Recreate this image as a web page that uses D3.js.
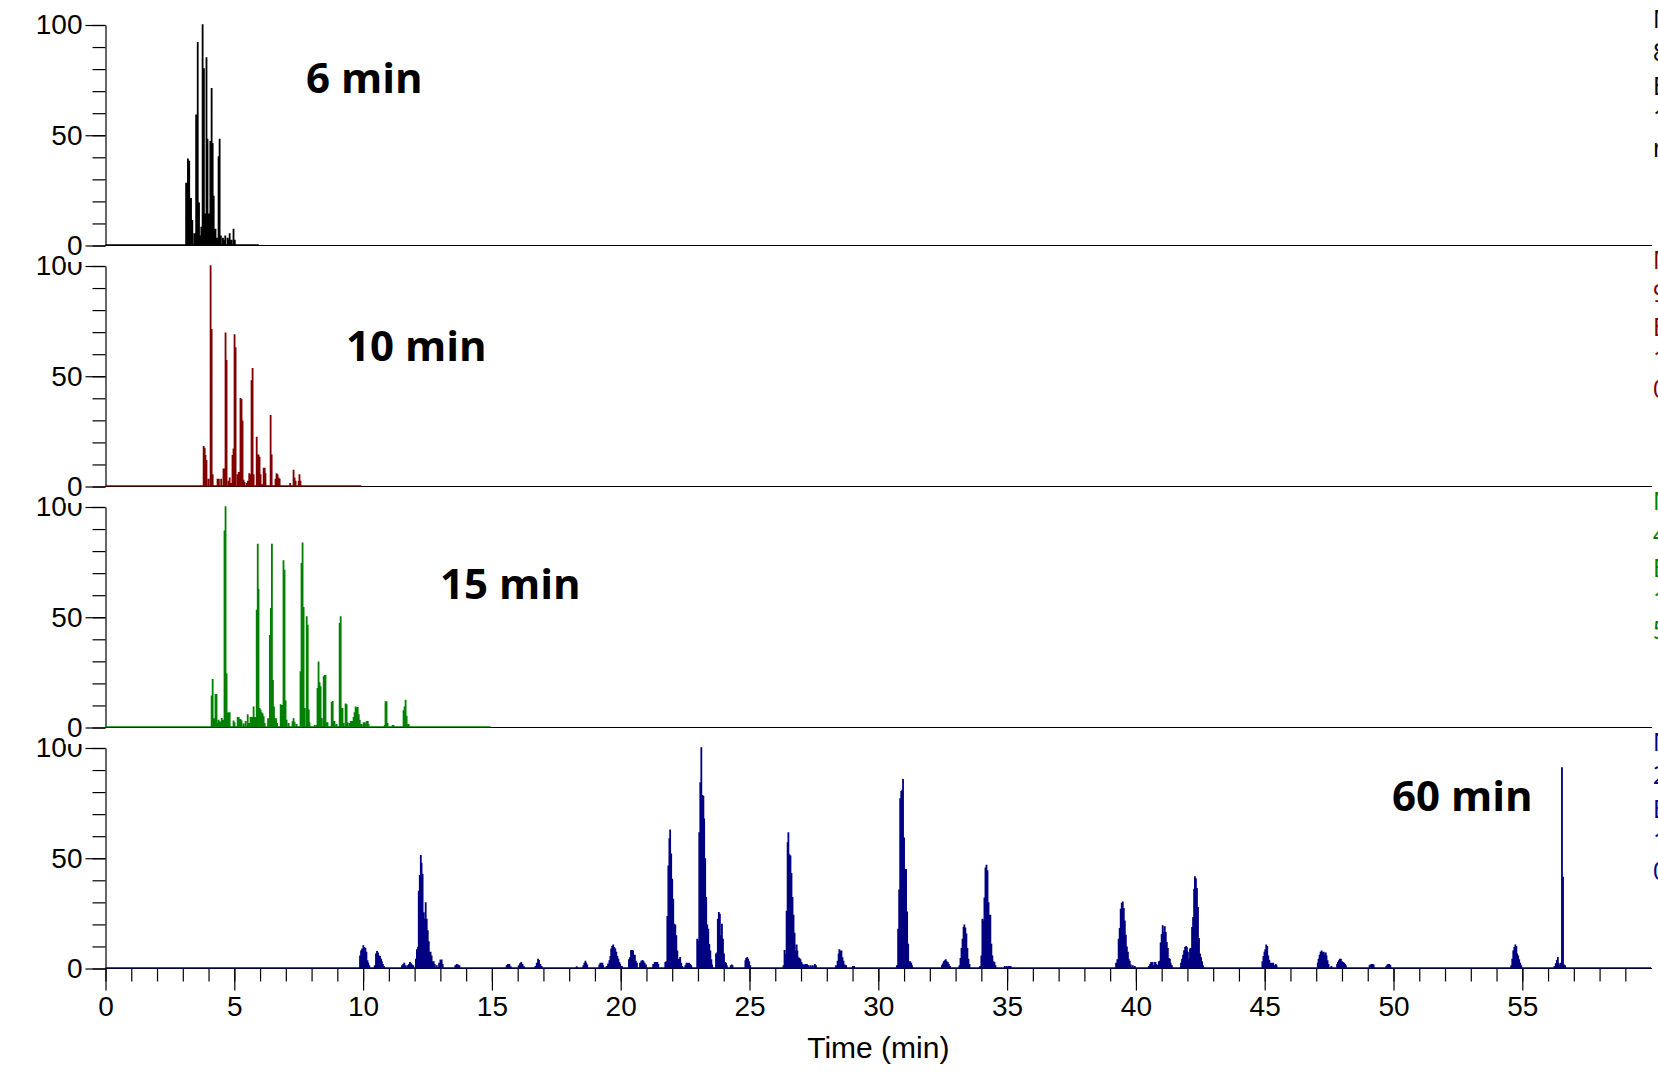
<!DOCTYPE html>
<html>
<head>
<meta charset="utf-8">
<script src="https://cdn.jsdelivr.net/npm/d3@7/dist/d3.min.js"></script>
<style>
  body { margin: 0; background: #fff; }
  svg { display: block; }
</style>
</head>
<body>
<div id="chart"></div>
<script>
// ---- data (time in min, relative abundance in %) ----
const runNames = ["6 min", "10 min", "15 min", "60 min"];
const runEnds = [5.95, 9.93, 14.95, 60];
const traceColors = ["#000000", "#800000", "#008000", "#000080"];

const trace6 = [
  [3.12,28],[3.19,39],[3.24,38],[3.31,21],[3.36,11],[3.44,5],[3.51,59],[3.57,92],[3.62,19],
  [3.67,4],[3.71,8],[3.76,100],[3.81,80],[3.86,14],[3.91,85],[3.95,48],[3.98,14],[4.02,14],
  [4.06,47],[4.11,71],[4.15,46],[4.19,22],[4.26,7],[4.31,3],[4.38,40],[4.42,48],[4.47,4],
  [4.55,3],[4.60,2],[4.64,4],[4.73,3],[4.77,2],[4.81,5],[4.88,2],[4.96,7],[5.01,2]
];

const trace10 = [
  [3.80,17.8],[3.84,17],[3.87,13.7],[3.91,11.5],[3.99,3],[4.07,100],[4.11,71],[4.15,5],
  [4.34,3],[4.39,3],[4.48,3],[4.57,7.6],[4.61,7.6],[4.65,69.5],[4.69,57],[4.77,2],[4.81,3.5],
  [4.88,1],[4.92,13.7],[4.96,16.7],[5.00,68.7],[5.04,62.7],[5.12,5],[5.16,6],[5.23,39.7],
  [5.27,39.2],[5.31,29.4],[5.35,2.5],[5.39,1.5],[5.48,1],[5.52,2],[5.57,5.5],[5.61,5],
  [5.66,47.8],[5.70,53.3],[5.74,5],[5.86,22],[5.89,8],[5.93,14],[5.97,13],[6.01,5],[6.06,0.5],
  [6.13,8],[6.17,8],[6.20,5.5],[6.40,32],[6.44,14],[6.59,3],[6.63,5.5],[6.67,5],[6.71,3.5],
  [6.75,3],[7.16,1],[7.29,7],[7.33,3.5],[7.37,2],[7.49,2],[7.52,5],[7.56,2]
];

const trace15 = [
  [4.11,14],[4.15,21.5],[4.19,3.6],[4.23,3.6],[4.26,14.7],[4.30,14.7],[4.34,1.5],[4.38,3],
  [4.42,2.3],[4.46,1.8],[4.50,3.8],[4.54,3],[4.57,3],[4.61,89],[4.65,100],[4.69,24],[4.73,6],
  [4.77,6.4],[4.81,6.4],[4.96,2.6],[5.00,1.8],[5.12,4.2],[5.16,4.2],[5.23,3.3],[5.27,2.7],
  [5.35,1.2],[5.43,2.4],[5.51,5.5],[5.55,1.5],[5.62,4.2],[5.66,4.2],[5.70,4.2],[5.74,9],
  [5.78,4.2],[5.82,4.2],[5.86,53],[5.90,83],[5.93,62.4],[5.97,8.3],[6.01,7.6],[6.05,6.4],
  [6.09,5.8],[6.13,4.5],[6.17,1.5],[6.30,3.6],[6.33,3.6],[6.37,41.5],[6.41,53.8],[6.45,83],
  [6.49,21],[6.53,9],[6.57,3.6],[6.61,3.6],[6.65,1.5],[6.79,10],[6.83,9.7],[6.90,75.5],
  [6.94,71.2],[6.98,11.8],[7.02,3],[7.10,1.5],[7.25,2.3],[7.29,3.6],[7.33,2],[7.41,1],
  [7.56,25],[7.60,74.2],[7.64,83.6],[7.68,54.2],[7.72,8.3],[7.80,50],[7.84,46.2],[7.88,7.6],
  [7.91,1.8],[8.11,0.6],[8.19,0.6],[8.22,17.4],[8.26,29.5],[8.30,20],[8.34,18.2],[8.38,3.8],
  [8.46,22.7],[8.50,23.3],[8.53,23.3],[8.57,1.8],[8.61,1.8],[8.77,11],[8.81,11.5],[8.85,2.4],
  [8.88,2.4],[8.96,1],[9.08,47],[9.12,50],[9.16,6],[9.19,8.3],[9.23,1.5],[9.31,10.3],[9.35,10],
  [9.39,1.8],[9.47,1.5],[9.51,2.4],[9.54,1.8],[9.58,2.4],[9.62,4.2],[9.66,6.4],[9.70,9],
  [9.74,8.3],[9.78,8.8],[9.82,5.5],[9.86,3],[9.93,1],[10.01,1.8],[10.05,1.8],[10.09,1],
  [10.13,2.4],[10.17,2.4],[10.20,1],[10.83,0.6],[10.86,11.4],[10.90,11.4],[10.94,1.5],
  [11.14,0.6],[11.17,0.6],[11.56,7.3],[11.60,9],[11.64,12.1],[11.68,4.8],[11.72,1],[11.76,1]
];

const trace60 = [
  [9.87,5.4],[9.91,7.6],[9.95,8.5],[10.00,10],[10.04,9.2],[10.08,8.8],[10.12,7],[10.16,3.2],
  [10.19,2.1],[10.23,0.9],[10.44,0.9],[10.49,6.2],[10.53,7.4],[10.57,6.7],[10.61,5.4],
  [10.65,5.1],[10.69,3.9],[10.72,2.7],[10.76,1.5],[10.80,0.6],[11.50,0.9],[11.55,1.5],
  [11.59,2.1],[11.64,0.9],[11.72,0.9],[11.77,1.5],[11.81,2.4],[11.85,1.8],[11.89,1.2],
  [11.94,0.9],[12.04,3.9],[12.08,8.2],[12.12,9.2],[12.15,34.8],[12.19,42],[12.23,51.1],
  [12.26,47.5],[12.30,42.5],[12.34,25],[12.38,22],[12.42,29.6],[12.46,22],[12.50,16.8],
  [12.54,11.8],[12.57,7],[12.61,7],[12.65,5.4],[12.69,2.7],[12.73,2.7],[12.77,1.5],
  [12.85,0.9],[12.94,2.1],[12.99,3.5],[13.04,3.5],[13.08,1.5],[13.57,0.9],[13.62,1.5],
  [13.67,1.2],[13.73,0.9],[15.56,0.9],[15.61,1.5],[15.67,1.5],[15.72,0.5],[16.03,0.9],
  [16.08,1.8],[16.13,2.4],[16.18,1.5],[16.24,0.5],[16.68,0.6],[16.73,2.1],[16.78,3.9],
  [16.82,3.3],[16.87,1.5],[16.92,0.6],[18.28,0.5],[18.54,0.9],[18.58,2.1],[18.62,3],
  [18.65,2.1],[18.69,1.2],[19.16,1.2],[19.20,2.1],[19.24,2.1],[19.28,2.1],[19.31,0.9],
  [19.44,0.6],[19.50,1.7],[19.55,3.2],[19.59,5.1],[19.62,8.5],[19.66,9.7],[19.70,10.3],
  [19.74,9.2],[19.78,8.5],[19.82,7],[19.86,5.1],[19.90,3.9],[19.94,2.4],[19.97,1.5],
  [20.04,0.6],[20.31,3.6],[20.35,4.5],[20.39,7.9],[20.43,7.9],[20.47,7.6],[20.50,5.1],
  [20.54,5.7],[20.58,3],[20.62,2.1],[20.74,2.1],[20.79,3],[20.84,3.3],[20.88,2.7],
  [20.92,2.1],[20.97,1.2],[21.25,1.5],[21.31,2.4],[21.36,2.4],[21.41,2.4],[21.45,1.5],
  [21.72,2.4],[21.76,2.7],[21.80,23.3],[21.84,46.3],[21.88,58.7],[21.91,62.6],[21.95,51.7],
  [21.99,40.2],[22.03,31.1],[22.07,19.8],[22.11,19.4],[22.15,14.5],[22.19,7.6],[22.23,3.9],
  [22.26,2.4],[22.30,4.7],[22.34,2.1],[22.38,0.6],[22.50,0.9],[22.54,1.8],[22.57,2.1],
  [22.61,1.8],[22.65,2.1],[22.69,1.5],[22.73,0.9],[22.96,13],[23.00,12.2],[23.04,61.4],
  [23.08,84.1],[23.12,100],[23.16,78.3],[23.20,78],[23.23,67.7],[23.27,49.6],[23.31,31.9],
  [23.35,19.4],[23.39,17.5],[23.43,10.6],[23.47,7.6],[23.51,3.6],[23.54,1.2],[23.69,6.2],
  [23.73,6.7],[23.76,22],[23.80,25.1],[23.84,24.3],[23.88,14.5],[23.92,19.8],[23.96,13],
  [24.00,6.2],[24.04,2.4],[24.08,2.1],[24.11,0.9],[24.26,0.9],[24.30,1.2],[24.33,0.9],
  [24.83,3.2],[24.86,4.2],[24.90,4.7],[24.94,3.9],[24.98,2.7],[25.02,0.9],
  [26.31,0.9],[26.35,7.9],[26.39,6],[26.43,25.7],[26.47,56.8],[26.50,61.4],[26.54,51.4],
  [26.58,50.8],[26.62,42.9],[26.66,31.9],[26.70,23.9],[26.74,15.7],[26.78,7.6],[26.82,10.3],
  [26.85,7.6],[26.89,4.5],[26.93,4.2],[26.97,3.6],[27.01,2.4],[27.05,1.5],[27.09,1.2],
  [27.16,1.5],[27.22,1.5],[27.29,0.9],[27.37,0.9],[27.45,0.9],[27.53,1.5],[27.57,0.9],
  [28.35,0.9],[28.41,3],[28.45,6.3],[28.48,8.2],[28.52,7.6],[28.56,7.6],[28.60,4.5],
  [28.64,3],[28.69,1.2],[28.74,0.9],[29.00,0.6],[29.05,0.6],[30.71,0.9],[30.76,17.5],
  [30.80,35.4],[30.84,76.8],[30.88,80.1],[30.92,80.7],[30.95,85.6],[30.99,59],[31.03,44.7],
  [31.07,44.7],[31.11,25.4],[31.15,10.7],[31.19,2.7],[31.23,2.7],[31.27,2.1],[31.30,0.9],
  [32.46,0.9],[32.49,1.7],[32.53,2.7],[32.57,3.2],[32.61,3.6],[32.65,2.7],[32.69,2.4],
  [32.73,1.5],[32.78,0.6],[33.14,0.9],[33.18,4.2],[33.22,8.8],[33.26,13],[33.30,18.3],
  [33.33,19.4],[33.37,18.1],[33.41,15.3],[33.45,8.8],[33.49,3.9],[33.53,1.5],[33.94,0.6],
  [33.99,5.4],[34.03,22],[34.07,21.3],[34.11,31.7],[34.15,45.4],[34.19,46.6],[34.23,44.1],
  [34.27,29.6],[34.31,23.9],[34.34,23.9],[34.38,10.7],[34.42,5.4],[34.46,2.7],[34.50,2.4],
  [34.54,0.9],[34.90,0.6],[34.98,0.6],[35.06,0.6],[35.13,0.6],[39.22,2.1],[39.27,3.6],
  [39.32,13],[39.36,17.8],[39.40,26.6],[39.44,29.3],[39.48,29.9],[39.52,26.9],[39.56,21.3],
  [39.60,14.8],[39.64,9.4],[39.68,7],[39.71,3.9],[39.75,3],[39.79,1.2],[39.87,0.9],
  [39.95,0.6],[40.49,0.6],[40.54,1.5],[40.58,2.4],[40.62,2.4],[40.66,0.9],[40.71,2.4],
  [40.75,2.4],[40.79,1.5],[40.83,0.9],[40.88,2.7],[40.92,3],[40.95,11.2],[40.99,15.1],
  [41.03,19.1],[41.07,16.3],[41.11,18.7],[41.15,16],[41.19,11.5],[41.23,8.8],[41.27,4.2],
  [41.31,3.9],[41.34,2.1],[41.39,0.9],[41.74,2.1],[41.78,3.9],[41.82,5.7],[41.86,7.7],
  [41.90,9.2],[41.94,9.7],[41.97,9.2],[42.01,7],[42.05,3.9],[42.09,8.5],[42.13,8.8],
  [42.17,18.3],[42.21,22.8],[42.25,35.7],[42.28,41.4],[42.32,40.5],[42.36,36],[42.40,27.4],
  [42.44,13.3],[42.48,6.2],[42.52,4.5],[42.56,2.7],[42.60,0.9],[44.90,2.7],[44.94,5.1],
  [44.98,7],[45.01,8.2],[45.05,10.3],[45.09,9.7],[45.13,5.4],[45.17,3.3],[45.21,2.1],
  [45.25,2.1],[45.29,1.5],[45.32,2.1],[45.36,0.9],[45.42,1.5],[45.45,0.9],[47.05,2.1],
  [47.08,3.9],[47.12,5.7],[47.16,7],[47.20,7.6],[47.24,6.7],[47.28,7],[47.32,5.7],
  [47.36,6.7],[47.39,5.4],[47.43,3.2],[47.47,1.5],[47.58,0.6],[47.80,1.5],[47.83,2.4],
  [47.87,3.2],[47.91,3.9],[47.95,3.9],[47.99,2.7],[48.03,2.4],[48.07,2.1],[48.11,1.5],
  [48.14,0.9],[49.06,0.9],[49.10,1.2],[49.14,1.5],[49.18,1.5],[49.22,1.2],[49.71,0.6],
  [49.75,1.2],[49.79,1.5],[49.83,1.5],[49.87,0.9],[54.56,0.9],[54.60,3.9],[54.64,7.6],
  [54.68,9.2],[54.72,10.3],[54.76,9.7],[54.79,6.2],[54.83,5.4],[54.87,3.6],[54.91,2.1],
  [54.95,0.9],[56.24,0.6],[56.29,1.8],[56.33,3.3],[56.37,4.7],[56.41,1.8],[56.45,0.9],
  [56.49,2.1],[56.53,91],[56.57,41.1],[56.61,1.2],[56.65,0.9]
];

const traces = [trace6, trace10, trace15, trace60];

const yTickValues = [0, 50, 100];
const yMinorValues = [0, 10, 20, 30, 40, 50, 60, 70, 80, 90, 100];
const xTickValues = [0, 5, 10, 15, 20, 25, 30, 35, 40, 45, 50, 55];
const xMinorValues = d3.range(0, 60, 1);
const xTitle = "Time (min)";

// status text at the right edge (only the first letters fit in the picture)
const legendText = [
  ["MA: 8.26E9", "8.26E9", "ESI Full ms", "1: 06 min", "ms 140218"],
  ["MA: 9.14E9", "9.14E9", "ESI Full ms", "1: 10 min", "0.0-10.0"],
  ["MA: 4.87E9", "4.87E9", "ESI Full ms", "1: 15 min", "5.0E9"],
  ["MA: 2.43E9", "2.43E9", "ESI Full ms", "1: 60 min", "0.0-60.0"]
];

// ---- layout ----
const width = 1658, height = 1076;
const axisX = 105.5;
const axisRight = 1652;
const panelBase = [245.5, 486.5, 727.5, 968.5];
const panelHeight = 220.5;
const labelPos = [[306, 93], [346, 360.5], [440, 598.5], [1392, 810.5]];
const legendOffsets = [3, 36, 70, 102, 132];
const tickFont = "'Liberation Sans', Arial, sans-serif";

const svg = d3.select("#chart").append("svg")
  .attr("width", width)
  .attr("height", height);

const x = d3.scaleLinear().domain([0, 60]).range([axisX, axisX + 60 * 25.76]);

const line = d3.line().x(d => x(d[0])).y(d => d[1]);

function spikePoints(samples, end, y, w) {
  const pts = [[0, y(0)]];
  samples.slice().sort((a, b) => a[0] - b[0]).forEach(([t, v]) => {
    pts.push([t, y(0)], [t, y(v)], [t + w, y(v)], [t + w, y(0)]);
  });
  pts.push([end, y(0)]);
  return pts;
}

function drawPanel(i) {
  const base = panelBase[i];
  const y = d3.scaleLinear().domain([0, 100]).range([base, base - panelHeight]);
  const g = svg.append("g").attr("class", "panel");

  // baseline across the full width
  g.append("line")
    .attr("x1", axisX).attr("x2", axisRight)
    .attr("y1", base).attr("y2", base)
    .attr("stroke", "#000").attr("stroke-width", 1.2);

  // minor y ticks
  g.append("g")
    .attr("transform", `translate(${axisX},0)`)
    .call(d3.axisLeft(y).tickValues(yMinorValues).tickSize(13).tickSizeOuter(0).tickFormat(""))
    .call(a => a.selectAll("line,path").attr("stroke", "#000").attr("stroke-width", 1.2));

  // major y ticks with labels
  const ya = g.append("g")
    .attr("transform", `translate(${axisX},0)`)
    .call(d3.axisLeft(y).tickValues(yTickValues).tickSize(20).tickSizeOuter(0).tickPadding(3))
    .call(a => a.select(".domain").remove())
    .call(a => a.selectAll("line").attr("stroke", "#000").attr("stroke-width", 1.2));
  ya.selectAll("text")
    .attr("fill", "#000")
    .style("font-family", tickFont)
    .style("font-size", "28px");
  // the "0" label sits on a white box that hides the top of the next panel's "100"
  ya.selectAll(".tick").filter(d => d === 0)
    .insert("rect", "text")
    .attr("x", -41).attr("y", -15)
    .attr("width", 20).attr("height", 31)
    .attr("fill", "#fff");

  // trace
  const yt = d3.scaleLinear().domain([0, 100]).range([base - 0.6, base - panelHeight]);
  g.append("path")
    .attr("d", line(spikePoints(traces[i], runEnds[i], yt, 0.02)))
    .attr("fill", "none")
    .attr("stroke", traceColors[i])
    .attr("stroke-width", 1.3)
    .attr("stroke-linejoin", "miter");

  // run label
  g.append("text")
    .attr("x", labelPos[i][0]).attr("y", labelPos[i][1])
    .style("font-family", "'Open Sans', 'Noto Sans', sans-serif")
    .style("font-weight", 700)
    .style("font-size", "42px")
    .attr("fill", "#000")
    .text(runNames[i]);

  // right edge status text
  g.append("g").selectAll("text")
    .data(legendText[i])
    .join("text")
    .attr("x", 1652.7)
    .attr("y", (d, k) => base - panelHeight + legendOffsets[k])
    .style("font-family", "'Open Sans', sans-serif")
    .style("font-size", "26px")
    .attr("fill", traceColors[i])
    .text(d => d);
}

// bottom panel first so that upper panels paint over the overlapping labels
[3, 2, 1, 0].forEach(drawPanel);

// time axis under the last panel
const xBase = panelBase[3];
svg.append("g")
  .attr("transform", `translate(0,${xBase})`)
  .call(d3.axisBottom(x).tickValues(xMinorValues).tickSize(13).tickSizeOuter(0).tickFormat(""))
  .call(a => a.select(".domain").remove())
  .call(a => a.selectAll("line").attr("stroke", "#000").attr("stroke-width", 1.2));

const xa = svg.append("g")
  .attr("transform", `translate(0,${xBase})`)
  .call(d3.axisBottom(x).tickValues(xTickValues).tickSize(22).tickSizeOuter(0).tickPadding(6))
  .call(a => a.select(".domain").remove())
  .call(a => a.selectAll("line").attr("stroke", "#000").attr("stroke-width", 1.2));
xa.selectAll("text")
  .attr("fill", "#000")
  .style("font-family", tickFont)
  .style("font-size", "28px");

svg.append("text")
  .attr("x", x(30)).attr("y", 1058)
  .attr("text-anchor", "middle")
  .style("font-family", tickFont)
  .style("font-size", "30px")
  .attr("fill", "#000")
  .text(xTitle);
</script>
</body>
</html>
